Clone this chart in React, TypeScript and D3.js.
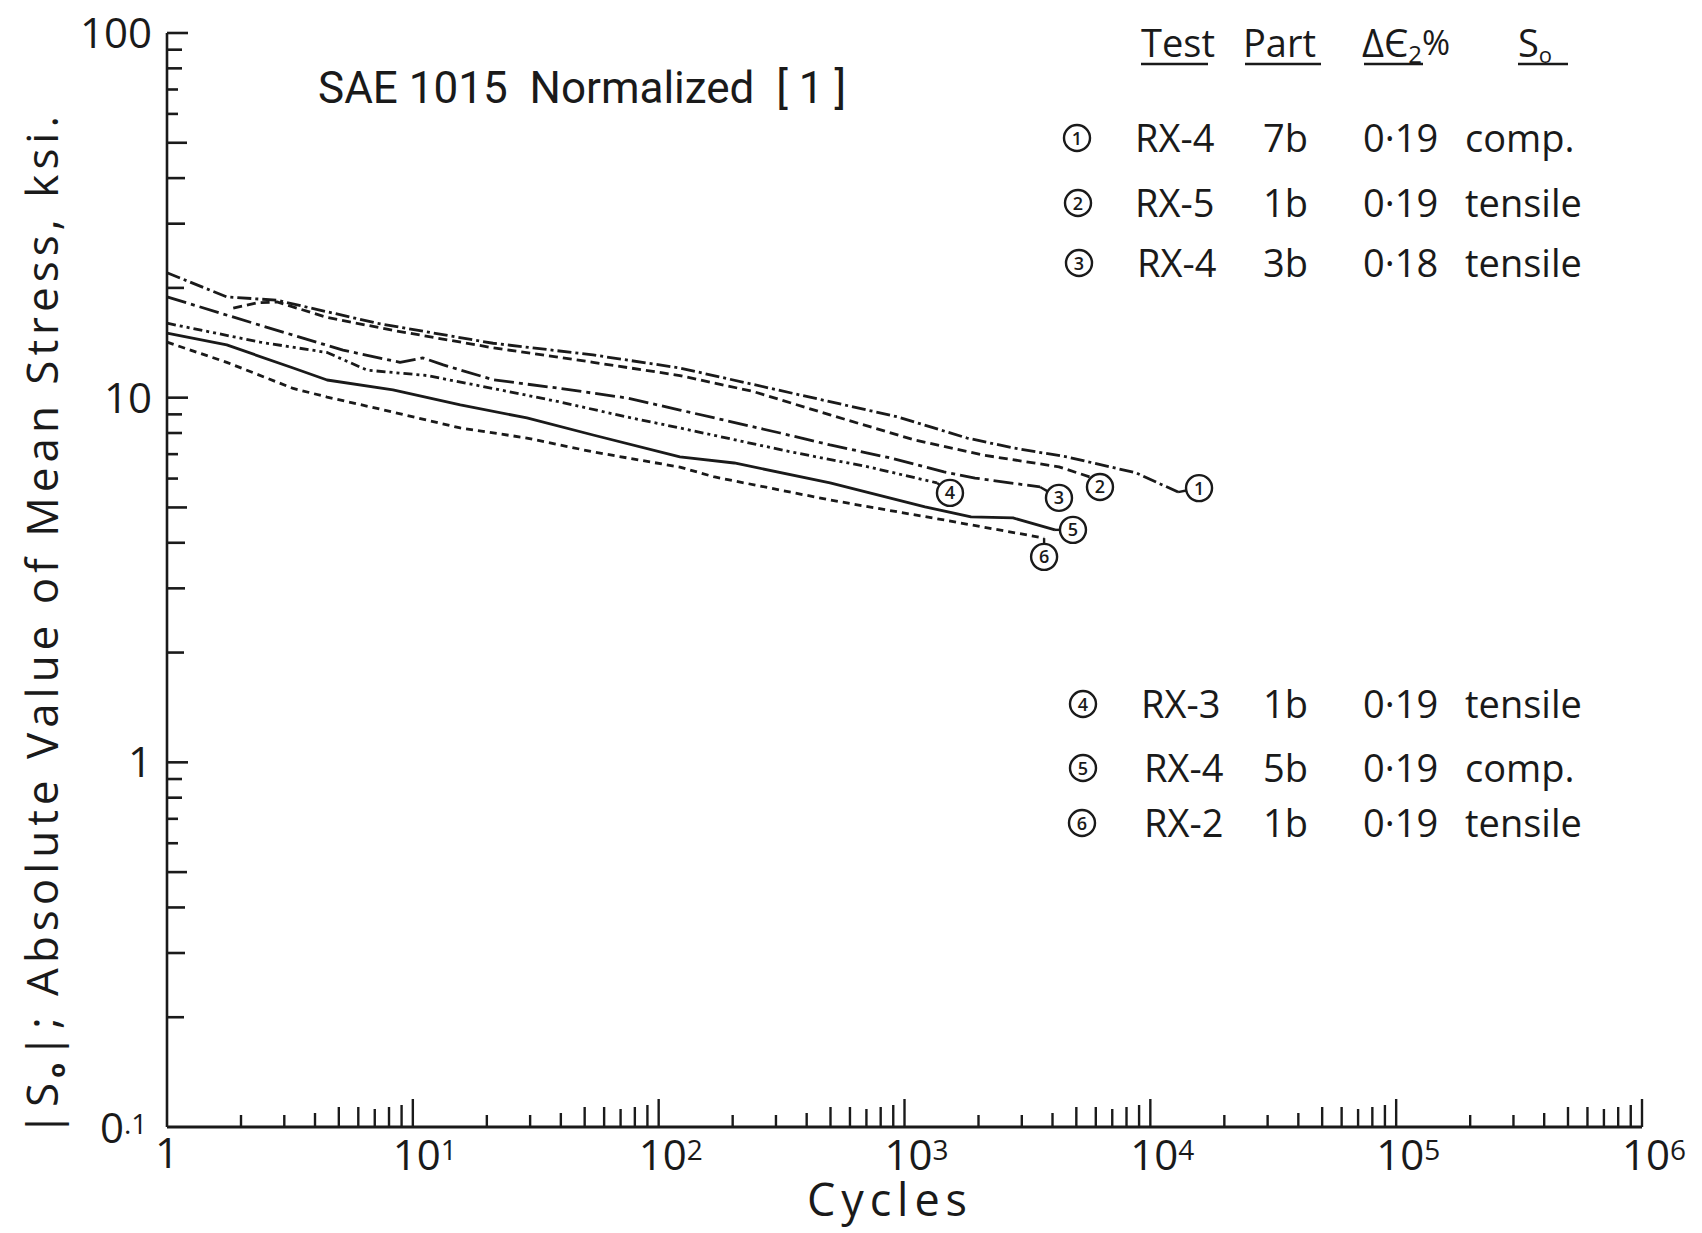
import React from "react";
import * as d3 from "d3";

// ---- Data: |S0| mean stress (ksi) vs cycles, SAE 1015 normalized ----
const cycles1 = [1, 1.75, 2.8, 7.15, 21.2, 54.1, 122, 462, 942, 1796, 2763, 4583, 8743, 12970];
const stress1 = [22.0, 18.9, 18.5, 16.0, 14.1, 13.1, 12.06, 9.86, 8.85, 7.75, 7.28, 6.88, 6.22, 5.51];

const cycles2 = [1.86, 2.32, 2.8, 4.48, 8.3, 21.2, 54.1, 122, 242, 498, 1094, 2086, 4250, 5690];
const stress2 = [17.6, 18.2, 18.3, 16.6, 15.3, 13.7, 12.5, 11.5, 10.4, 8.97, 7.66, 6.96, 6.46, 6.06];

const cycles3 = [1, 2.39, 5.2, 8.87, 11.0, 13.3, 21.2, 39.7, 74.3, 122, 312, 498, 881, 1448, 1936, 3560];
const stress3 = [18.9, 15.8, 13.5, 12.5, 12.85, 12.3, 11.2, 10.6, 9.98, 9.25, 8.0, 7.42, 6.83, 6.26, 6.02, 5.69];

const cycles4 = [1, 2.39, 4.48, 6.51, 11.4, 21.2, 39.7, 74.3, 122, 345, 711, 1356];
const stress4 = [16.0, 14.2, 13.3, 11.9, 11.5, 10.6, 9.73, 8.85, 8.26, 7.1, 6.46, 5.84];

const cycles5 = [1, 1.75, 3.26, 4.48, 8.3, 15.6, 29.1, 54.1, 122, 203, 498, 1212, 1865, 2763, 4095];
const stress5 = [15.04, 13.95, 12.06, 11.18, 10.5, 9.55, 8.8, 7.9, 6.88, 6.62, 5.84, 5.02, 4.71, 4.68, 4.34];

const cycles6 = [1, 1.75, 3.26, 4.48, 8.3, 15.6, 29.1, 54.1, 122, 169, 498, 1448, 3697];
const stress6 = [14.2, 12.5, 10.6, 10.04, 9.13, 8.26, 7.75, 7.1, 6.45, 6.06, 5.24, 4.62, 4.12];

// circled test numbers placed at the end of each curve
const testNumbers = ["1", "2", "3", "4", "5", "6"];
const tagCycles = [15780, 6240, 4250, 1531, 4845, 3697];
const tagStress = [5.65, 5.69, 5.31, 5.48, 4.34, 3.66];

// legend table
const testIds = ["RX-4", "RX-5", "RX-4", "RX-3", "RX-4", "RX-2"];
const parts = ["7b", "1b", "3b", "1b", "5b", "1b"];
const strainRanges = ["0·19", "0·19", "0·18", "0·19", "0·19", "0·19"];
const meanStressSigns = ["comp.", "tensile", "tensile", "tensile", "comp.", "tensile"];

// axes
const xDecades = [0, 1, 2, 3, 4, 5, 6];
const yMajorValues = [1, 10, 100];
const yMajorLabels = ["1", "10", "100"];

// ---- layout ----
const W = 1702;
const H = 1233;
const X0 = 167;
const X1 = 1642;
const Y0 = 1127;
const Y1 = 33;
const INK = "#1a1a1a";
const LETTER = "'Open Sans', 'DejaVu Sans', sans-serif";

const x = d3.scaleLog().domain([1, 1e6]).range([X0, X1]);
const y = d3.scaleLog().domain([0.1, 100]).range([Y0, Y1]);

const series = [
  { c: cycles1, s: stress1, dash: "14 4 3 4" },
  { c: cycles2, s: stress2, dash: "9 5" },
  { c: cycles3, s: stress3, dash: "20 5 4 5" },
  { c: cycles4, s: stress4, dash: "9 4 3 4 3 4" },
  { c: cycles5, s: stress5, dash: "none" },
  { c: cycles6, s: stress6, dash: "7 5" },
];

const xMinorLen: Record<number, number> = { 2: 12, 3: 12, 4: 14, 5: 20, 6: 20, 7: 18, 8: 20, 9: 22 };
const yMinorLen: Record<number, number> = { 2: 17, 3: 18, 4: 18, 5: 20, 6: 11, 7: 11, 8: 15, 9: 15 };

const legendBaselines = [152, 217, 277, 718, 782, 837];
const legendTagX = [1077, 1078, 1079, 1083, 1083, 1082];
const legendTestX = [1135, 1135, 1137, 1141, 1144, 1144];
const COL_PART = 1263;
const COL_STRAIN = 1363;
const COL_SIGN = 1465;
const TAG_R = 13;

const line = d3
  .line<[number, number]>()
  .x((d) => x(d[0]))
  .y((d) => y(d[1]));

function Tag({ cx, cy, label }: { cx: number; cy: number; label: string }) {
  return (
    <g>
      <circle cx={cx} cy={cy} r={TAG_R} fill="white" stroke={INK} strokeWidth={2.4} />
      <text
        x={cx}
        y={cy + 6.5}
        textAnchor="middle"
        fontFamily={LETTER}
        fontSize={18}
        fontWeight={600}
        fill={INK}
      >
        {label}
      </text>
    </g>
  );
}

export default function App() {
  const xTicks: { v: number; len: number }[] = [];
  xDecades.forEach((k) => {
    if (k > 0) xTicks.push({ v: Math.pow(10, k), len: 28 });
    if (k < 6) for (let m = 2; m <= 9; m++) xTicks.push({ v: m * Math.pow(10, k), len: xMinorLen[m] });
  });
  const yTicks: { v: number; len: number }[] = [];
  [-1, 0, 1].forEach((k) => {
    for (let m = 2; m <= 9; m++) yTicks.push({ v: m * Math.pow(10, k), len: yMinorLen[m] });
  });
  yMajorValues.forEach((v) => yTicks.push({ v, len: 21 }));

  return (
    <svg
      width={W}
      height={H}
      viewBox={`0 0 ${W} ${H}`}
      style={{ position: "absolute", left: 0, top: 0, background: "white" }}
    >
      <rect x={0} y={0} width={W} height={H} fill="white" />

      {/* axes */}
      <line x1={X0} y1={Y1} x2={X0} y2={Y0} stroke={INK} strokeWidth={2.6} />
      <line x1={X0} y1={Y0} x2={X1} y2={Y0} stroke={INK} strokeWidth={3} />

      {xTicks.map((t, i) => (
        <line key={"xt" + i} x1={x(t.v)} x2={x(t.v)} y1={Y0} y2={Y0 - t.len} stroke={INK} strokeWidth={2.4} />
      ))}
      {yTicks.map((t, i) => (
        <line key={"yt" + i} x1={X0} x2={X0 + t.len} y1={y(t.v)} y2={y(t.v)} stroke={INK} strokeWidth={2.6} />
      ))}

      {/* x tick labels */}
      {xDecades.map((k) =>
        k === 0 ? (
          <text key="x0" x={x(1)} y={1168} textAnchor="middle" fontFamily={LETTER} fontSize={42} fill={INK}>
            1
          </text>
        ) : (
          <g key={"xl" + k}>
            <text x={x(Math.pow(10, k)) + 4} y={1170} textAnchor="middle" fontFamily={LETTER} fontSize={42} fill={INK}>
              10
            </text>
            <text x={x(Math.pow(10, k)) + 28} y={1160} fontFamily={LETTER} fontSize={28} fill={INK}>
              {k}
            </text>
          </g>
        )
      )}

      {/* y tick labels */}
      {yMajorValues.map((v, i) => (
        <text key={"yl" + i} x={152} y={y(v) + 15} textAnchor="end" fontFamily={LETTER} fontSize={42} fill={INK}>
          {yMajorLabels[i]}
        </text>
      ))}
      <text x={100} y={1143} fontFamily={LETTER} fontSize={42} fill={INK}>
        0<tspan fontSize={28} dy={-9}>.1</tspan>
      </text>

      {/* axis titles */}
      <text
        transform={`translate(58,1136) rotate(-90)`}
        fontFamily={LETTER}
        fontSize={44}
        fill={INK}
        textLength={1020}
        lengthAdjust="spacing"
      >
        |S<tspan fontSize={24} fontWeight={700} dy={7}>o</tspan>
        <tspan dy={-7}>|; Absolute Value of Mean Stress, ksi.</tspan>
      </text>
      <text x={807} y={1216} fontFamily={LETTER} fontSize={45} fill={INK} textLength={160} lengthAdjust="spacing">
        Cycles
      </text>

      {/* chart title */}
      <text x={318} y={103} fontFamily="Roboto, 'Liberation Sans', sans-serif" fontSize={44} fill={INK} style={{ whiteSpace: "pre" }}>
        {"SAE 1015  Normalized  [ 1 ]"}
      </text>

      {/* curves */}
      {series.map((sr, i) => {
        const pts: [number, number][] = sr.c.map((c, j) => [c, sr.s[j]]);
        const last = pts[pts.length - 1];
        const lx = x(last[0]);
        const ly = y(last[1]);
        const tx = x(tagCycles[i]);
        const ty = y(tagStress[i]);
        const dist = Math.hypot(tx - lx, ty - ly);
        const ex = dist > TAG_R ? tx - ((tx - lx) / dist) * TAG_R : lx;
        const ey = dist > TAG_R ? ty - ((ty - ly) / dist) * TAG_R : ly;
        return (
          <g key={"s" + i}>
            <path
              d={line(pts) || ""}
              fill="none"
              stroke={INK}
              strokeWidth={2.8}
              strokeDasharray={sr.dash}
              strokeLinejoin="round"
            />
            <line x1={lx} y1={ly} x2={ex} y2={ey} stroke={INK} strokeWidth={2.4} />
            <Tag cx={tx} cy={ty} label={testNumbers[i]} />
          </g>
        );
      })}

      {/* legend header */}
      <g fontFamily={LETTER} fontSize={38} fill={INK}>
        <text x={1141} y={57}>Test</text>
        <text x={1243} y={57}>Part</text>
        <text x={1362} y={57}>
          ΔЄ<tspan fontSize={24} dy={6}>2</tspan>
          <tspan fontSize={34} dy={-8}>%</tspan>
        </text>
        <text x={1518} y={57}>
          S<tspan fontSize={22} dy={6}>o</tspan>
        </text>
      </g>
      <g stroke={INK} strokeWidth={2.4}>
        <line x1={1141} x2={1208} y1={64} y2={64} />
        <line x1={1245} x2={1321} y1={64} y2={64} />
        <line x1={1364} x2={1423} y1={64} y2={64} />
        <line x1={1518} x2={1568} y1={64} y2={64} />
      </g>

      {/* legend rows */}
      {testIds.map((t, i) => (
        <g key={"lg" + i}>
          <Tag cx={legendTagX[i]} cy={legendBaselines[i] - 14} label={testNumbers[i]} />
          <g fontFamily={LETTER} fontSize={38} fill={INK}>
            <text x={legendTestX[i]} y={legendBaselines[i]}>{t}</text>
            <text x={COL_PART} y={legendBaselines[i]}>{parts[i]}</text>
            <text x={COL_STRAIN} y={legendBaselines[i]}>{strainRanges[i]}</text>
            <text x={COL_SIGN} y={legendBaselines[i]}>{meanStressSigns[i]}</text>
          </g>
        </g>
      ))}
    </svg>
  );
}
